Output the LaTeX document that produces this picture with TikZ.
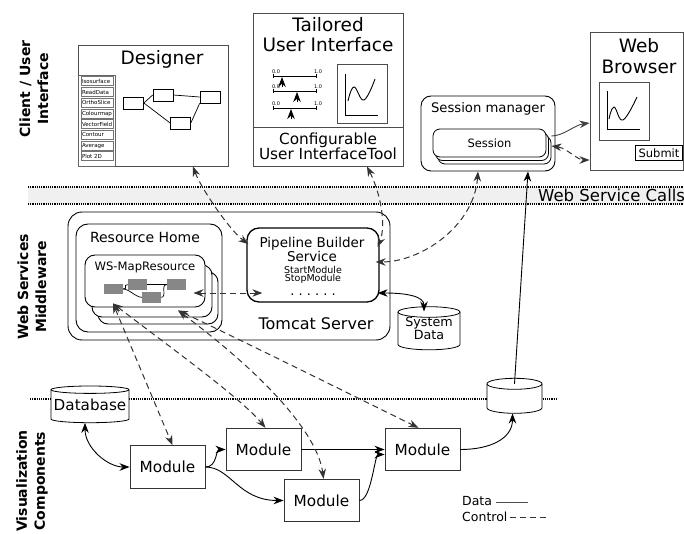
\documentclass[tikz,border=0pt]{standalone}
\usepackage{fontspec}
\setmainfont{DejaVu Sans}
\usetikzlibrary{arrows.meta,calc}

% cylinder: [text style] name, x, y of top, width, body height, end radius, text
\newcommand{\drum}[8][]{%
  \draw[drumline, fill=white] (#3-#5/2,#4) -- ++(0,#6)
    arc[start angle=180, end angle=360, x radius=1pt*#5/2, y radius=1pt*#7]
    -- ++(0,-#6)
    arc[start angle=0, end angle=180, x radius=1pt*#5/2, y radius=1pt*#7] -- cycle;
  \draw[drumline] (#3-#5/2,#4)
    arc[start angle=180, end angle=360, x radius=1pt*#5/2, y radius=1pt*#7];
  \coordinate (#2-top) at (#3,#4);
  \node[drumtext, minimum width=1pt*#5, minimum height=1pt*(#6+2*#7), #1] (#2) at (#3,{#4+#6/2}) {#8};
}

\tikzset{
  drumline/.style={line width=0.8pt},
  drumtext/.style={align=center},
}

\begin{document}
\begin{tikzpicture}[x=1pt, y=-1pt,
    every node/.style={inner sep=0pt},
    >={Stealth[length=10pt, width=7.5pt]},
    side/.style={rotate=90, align=center, font=\bfseries\fontsize{14}{18}\selectfont},
    title/.style={align=center, font=\fontsize{18.5}{21}\selectfont},
    frame/.style={draw=black!70, line width=0.9pt, fill=white},
    rframe/.style={draw, line width=0.9pt, fill=white},
    toolitem/.style={draw=black!55, line width=1pt, minimum height=9pt, text width=30pt,
      inner xsep=1pt, align=left, font=\fontsize{5.5}{6}\selectfont},
    gbox/.style={draw, line width=0.7pt, minimum width=20pt, minimum height=12pt, fill=white},
    grect/.style={fill=black!47, minimum width=19pt, minimum height=10.5pt},
    wsbox/.style={draw, line width=0.9pt, rounded corners=10pt, fill=white,
      minimum width=120pt, minimum height=52pt},
    sessbox/.style={draw, line width=0.8pt, rounded corners=7pt, fill=white,
      minimum width=113pt, minimum height=28pt, font=\fontsize{11.5}{12}\selectfont},
    module/.style={draw=black!80, line width=0.9pt, fill=white, minimum width=75pt,
      minimum height=42.5pt, font=\fontsize{15.3}{16}\selectfont},
    dots/.style={line width=1.1pt, dash pattern=on 1.1pt off 1.1pt},
    data/.style={line width=0.9pt},
    ctrl/.style={line width=1pt, black!80, dash pattern=on 6pt off 4pt},
    tinylab/.style={font=\fontsize{5}{5}\selectfont},
  ]
  \useasboundingbox (0,0) rectangle (684,534);

  % web service band
  \fill[black!6] (28,187) rectangle (684,204);
  \draw[dots] (28,187) -- (684,187);
  \draw[dots] (28,204) -- (684,204);
  \node[anchor=west, font=\fontsize{16.5}{20}\selectfont] (wscalls) at (538,195.5) {Web Service Calls};
  \draw[dots] (30,399) -- (556,399);

  % layer labels
  \node[side] (lclient) at (34,89) {Client / User\\Interface};
  \node[side] (lweb) at (32,287) {Web Services\\Middleware};
  \node[side] (lvis) at (32,481) {Visualization\\Components};

  % designer
  \node[frame, minimum width=150pt, minimum height=121pt] (designer) at (153,105.5) {};
  \node[title] (designer-t) at (162,59) {Designer};
  \node[frame, draw=black!60, anchor=south west, minimum width=37pt, minimum height=91pt] (palette) at (designer.south west) {};
  \foreach \tool [count=\i] in {Isosurface, ReadData, OrthoSlice, Colourmap, VectorField, Contour, Average, Plot 2D}
    \node[toolitem] (tool\i) at (97,{81.5+10.7*(\i-1)}) {\tool};
  \node[gbox] (g1) at (133.5,103) {};
  \node[gbox] (g2) at (163,95) {};
  \node[gbox] (g3) at (210,97) {};
  \node[gbox] (g4) at (180.5,123) {};
  \draw[line width=0.7pt] (g1.east) -- (g2.west);
  \draw[line width=0.7pt] (g1.east) -- (g4.west);
  \draw[line width=0.7pt] (g2.east) -- (g3.west);
  \draw[line width=0.7pt] (g4.east) -- (g3.south west);

  % tailored user interface
  \node[frame, minimum width=150pt, minimum height=153pt] (tui) at (328,89.5) {};
  \node[title, font=\fontsize{18.5}{20}\selectfont] (tui-t) at (328,35) {Tailored\\User Interface};
  \coordinate (tuidiv) at (0,127);
  \draw[black!70, line width=0.9pt] (tui.west |- tuidiv) -- (tui.east |- tuidiv);
  \node[align=center, font=\fontsize{15.3}{15.5}\selectfont] (tui-cfg) at (328,146.5) {Configurable\\User InterfaceTool};
  \foreach \y/\p in {76/282, 91/297, 108/291} {
    \draw[line width=0.9pt, {Bar[width=4pt]}-{Bar[width=4pt]}] (273,\y) -- (317,\y);
    \node[tinylab] (lo\y) at (276,\y-4) {0.0};
    \node[tinylab] (hi\y) at (318,\y-4) {1.0};
    \draw[line width=0.9pt, -{Stealth[length=10pt, width=7.5pt]}] (\p,\y+11.5) -- (\p,\y+1);
  }
  \node[frame, minimum width=50pt, minimum height=59pt] (tuiplot) at (362,93.5) {};
  \draw[line width=0.9pt] (345,74) -- (345,115) -- (378,115);
  \draw[line width=0.9pt] plot[smooth, tension=0.7] coordinates {(348,101) (354,87) (364,100) (375,79)};

  % web browser
  \node[frame, minimum width=93pt, minimum height=138pt] (browser) at (636.5,101) {};
  \node[title] (browser-t) at (639,56) {Web\\Browser};
  \node[frame, minimum width=50pt, minimum height=58pt] (bplot) at (624,111) {};
  \draw[line width=0.9pt] (607,91) -- (607,129) -- (640,129);
  \draw[line width=0.9pt] plot[smooth, tension=0.7] coordinates {(609,119) (614,107) (623,120) (637,97)};
  \node[draw, line width=0.8pt, fill=white, minimum width=47pt, minimum height=15pt,
    font=\fontsize{11.5}{12}\selectfont] (submit) at (659,153) {Submit};

  % session manager
  \node[rframe, rounded corners=10pt, minimum width=134pt, minimum height=75pt] (sm) at (488,133.5) {};
  \node[font=\fontsize{13.2}{14}\selectfont] (sm-t) at (488,109) {Session manager};
  \node[sessbox] (sess3) at (494.5,150) {};
  \node[sessbox] (sess2) at (492,146.5) {};
  \node[sessbox] (sess) at (489.5,143) {Session};

  % tomcat server
  \node[rframe, rounded corners=14pt, minimum width=322pt, minimum height=128pt] (tomcat) at (229,276) {};
  \node[font=\fontsize{16}{17}\selectfont] (tomcat-t) at (316,323.5) {Tomcat Server};
  \node[rframe, rounded corners=12pt, minimum width=146pt, minimum height=108pt] (rhome) at (149,278) {};
  \node[font=\fontsize{14}{15}\selectfont] (rhome-t) at (145,237) {Resource Home};
  \node[wsbox] (wsmr3) at (158,298) {};
  \node[wsbox] (wsmr2) at (152,291) {};
  \node[wsbox] (wsmr) at (145,281) {};
  \node[font=\fontsize{11.6}{12}\selectfont] (wsmr-t) at (145,267) {WS-MapResource};
  \node[grect] (r1) at (113.5,289) {};
  \node[grect] (r2) at (137.5,284.7) {};
  \node[grect] (r3) at (151.5,297.3) {};
  \node[grect] (r4) at (176.2,284.7) {};
  \draw[line width=0.7pt] (r1.east) .. controls +(6,0) and +(-6,0) .. (r2.west);
  \draw[line width=0.7pt] (r1.east) .. controls +(6,0) and +(-6,0) .. (r3.west);
  \draw[line width=0.7pt] (r2.east) -- (r4.west);
  \draw[line width=0.7pt] (r3.east) .. controls +(6,0) and +(-6,0) .. (r4.west);

  % pipeline builder
  \node[rframe, rounded corners=12pt, line width=1.3pt, minimum width=132pt, minimum height=74pt] (pbs) at (313,265) {};
  \node[align=center, font=\fontsize{13.5}{13}\selectfont] (pbs-t) at (312,249) {Pipeline Builder\\Service};
  \node[align=center, font=\fontsize{9.5}{8.5}\selectfont] (pbs-ops) at (313,275) {StartModule\\StopModule};
  \node[font=\fontsize{13}{13}\selectfont, text height=2pt, text depth=0pt] (pbs-dots) at (313,294) {.\ .\ .\ .\ .\ .};

  % stores
  \drum[font=\fontsize{12.7}{11}\selectfont]{sys}{429}{312}{62}{32.5}{5.3}{System\\Data}
  \drum[font=\fontsize{15.2}{16}\selectfont]{db}{90}{389.7}{78}{29.3}{3.7}{Database}
  \drum{out}{514.5}{383.8}{55}{24}{5.5}{}

  % modules
  \node[module] (m1) at (167.5,467) {Module};
  \node[module] (m2) at (263.5,449.5) {Module};
  \node[module] (m3) at (321.5,500.5) {Module};
  \node[module] (m4) at (422.5,449.5) {Module};

  % data flow
  \draw[data, <->] ($(db.south)+(-5,0)$) .. controls +(0,25) and +(-22,0) .. (m1.west);
  \draw[data, ->] (m1.east) .. controls +(12,0) and +(-10,0) .. (m2.west);
  \draw[data, ->] (m1.east) .. controls +(25,0) and +(-45,0) .. (m3.west);
  \draw[data, ->] (m2.east) -- (m4.west);
  \draw[data, ->] (m3.east) .. controls +(12,0) and +(-10,0) .. ($(m4.west)+(0,5)$);
  \draw[data, ->] (m4.east) .. controls +(30,0) and +(0,25) .. ($(out.south)+(-2,0)$);
  \draw[data, ->] (out-top) -- ($(sm.south)+(40,0)$);
  \draw[data, <->] ($(pbs.east)+(-2,28)$) .. controls +(30,0) and +(0,-15) .. ($(sys.north)+(-5,5)$);
  \draw[data, black!75, ->] ($(sess3.east)+(0,-14)$) .. controls +(12,0) and +(-15,2) .. ($(browser.west)+(0,22)$);

  % control flow
  \draw[ctrl, <->] ($(sess3.east)+(0,-4)$) .. controls +(15,2) and +(-12,0) .. ($(browser.west)+(0,59)$);
  \draw[ctrl, <->] ($(designer.south)+(40,0)$) .. controls +(8,22) and +(-18,-13) .. ($(pbs.west)+(2,-21)$);
  \draw[ctrl, <->] ($(tui.south)+(39,0)$) .. controls +(15,30) and +(8,-20) .. ($(pbs.east)+(-2,-18)$);
  \draw[ctrl, <->] ($(sm.south)+(-10,0)$) .. controls +(-4,55) and +(45,0) .. ($(pbs.east)+(-4,-3)$);
  \draw[ctrl, <->] ($(wsmr.east)+(-12,12)$) -- ($(pbs.west)+(16,28)$);
  \draw[ctrl, <->] ($(wsmr.south)+(-32,-4)$) -- ($(m1.north)+(5,0)$);
  \draw[ctrl, <->] ($(wsmr.south)+(-32,-4)$) .. controls +(60,46) and +(-25,-30) .. ($(m2.north)+(2,0)$);
  \draw[ctrl, <->] ($(wsmr.south)+(33,3)$) .. controls +(100,75) and +(-5,-39) .. ($(m3.north)+(2,0)$);
  \draw[ctrl, <->] ($(wsmr.south)+(33,3)$) .. controls +(60,28) and +(-45,-22) .. ($(m4.north)+(-4,0)$);

  % legend
  \node[anchor=west, font=\fontsize{12.5}{13}\selectfont] (leg-data) at (462,501) {Data};
  \node[anchor=west, font=\fontsize{12.5}{13}\selectfont] (leg-ctrl) at (462,517) {Control};
  \draw[black!70, line width=0.9pt] ($(leg-data.east)+(4,1)$) -- ++(32,0);
  \draw[ctrl] ($(leg-ctrl.east)+(2,0)$) -- ++(36,0);
\end{tikzpicture}
\end{document}
